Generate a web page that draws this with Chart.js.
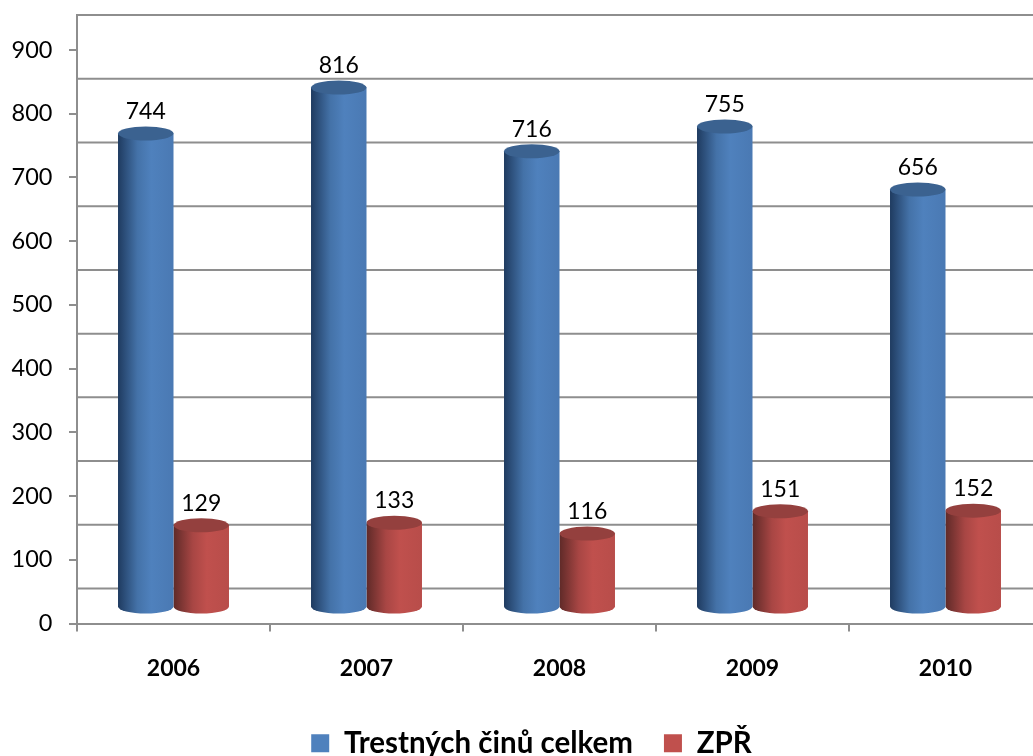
<!DOCTYPE html>
<html>
<head>
<meta charset="UTF-8">
<title>Trestných činů celkem / ZPŘ</title>
<style>
  html, body { margin: 0; padding: 0; background: #fff; overflow: hidden; }
  #wrap { width: 1033px; height: 756px; overflow: hidden; }
</style>
</head>
<body>
<div id="wrap"><canvas id="graf" width="1042" height="756" style="display:block"></canvas></div>
<script src="https://cdn.jsdelivr.net/npm/chart.js@4/dist/chart.umd.min.js"></script>
<script>
  var years = ['2006', '2007', '2008', '2009', '2010'];
  var trestneCiny = [744, 816, 716, 755, 656];
  var zpr = [129, 133, 116, 151, 152];
  var yTicks = [0, 100, 200, 300, 400, 500, 600, 700, 800, 900];

  var gray = '#8e8e8e';
  var fontName = 'Lato, Carlito, Calibri, sans-serif';
  var wallShift = 35;   // the back wall sits this far up from the front axis
  var floorShift = 16;  // the cylinders stand on the floor between the two
  var ry = 7;

  var styles = [
    { dark: '#1f3b60', mid: '#4472a8', light: '#4f81bd', edge: '#4a79b3', top: '#3b6290' },
    { dark: '#5f2a28', mid: '#a84644', light: '#c0504d', edge: '#b84d4a', top: '#94403e' }
  ];

  var drawCylinder = function(c, el, st) {
    var p = el.getProps(['x', 'y', 'base', 'width'], true);
    var x0 = p.x - p.width / 2, x1 = p.x + p.width / 2;
    var top = p.y - floorShift, bot = p.base - floorShift;
    var g = c.createLinearGradient(x0, 0, x1, 0);
    g.addColorStop(0, st.dark);
    g.addColorStop(0.35, st.mid);
    g.addColorStop(0.6, st.light);
    g.addColorStop(1, st.edge);
    c.fillStyle = g;
    c.beginPath();
    c.moveTo(x0, top);
    c.lineTo(x0, bot);
    c.ellipse(p.x, bot, p.width / 2, ry, 0, Math.PI, 0, true);
    c.lineTo(x1, top);
    c.closePath();
    c.fill();
    c.fillStyle = st.top;
    c.beginPath();
    c.ellipse(p.x, top, p.width / 2, ry, 0, 0, Math.PI * 2);
    c.fill();
  };

  var cylinders = {
    id: 'cylinders',
    afterLayout: function(chart) {
      chart.legend.left += 10.5;
      chart.legend.right += 10.5;
    },
    beforeDatasetsDraw: function(chart) {
      // gridlines on the back wall
      var c = chart.ctx, y = chart.scales.y, a = chart.chartArea;
      c.save();
      c.strokeStyle = gray;
      c.lineWidth = 2;
      yTicks.forEach(function(v) {
        var py = y.getPixelForValue(v) - wallShift;
        c.beginPath();
        c.moveTo(a.left, py);
        c.lineTo(a.right, py);
        c.stroke();
      });
      c.restore();
    },
    beforeDatasetDraw: function(chart, args) {
      var c = chart.ctx;
      c.save();
      args.meta.data.forEach(function(el) {
        drawCylinder(c, el, styles[args.index]);
      });
      c.restore();
      return false;
    },
    afterDatasetsDraw: function(chart) {
      var c = chart.ctx;
      c.save();
      c.fillStyle = '#000';
      c.font = '23px ' + fontName;
      c.textAlign = 'center';
      c.textBaseline = 'middle';
      chart.data.datasets.forEach(function(ds, i) {
        chart.getDatasetMeta(i).data.forEach(function(el, j) {
          c.fillText(ds.data[j], el.x, el.y - floorShift - 22);
        });
      });
      c.restore();
    }
  };

  var chart = new Chart(document.getElementById('graf'), {
    type: 'bar',
    data: {
      labels: years,
      datasets: [
        { label: 'Trestných činů celkem', data: trestneCiny, backgroundColor: '#4f81bd' },
        { label: 'ZPŘ', data: zpr, backgroundColor: '#c0504d' }
      ]
    },
    options: {
      responsive: false,
      animation: false,
      layout: { padding: { top: 15, left: 0, right: 0, bottom: -12 } },
      datasets: { bar: { barPercentage: 1, categoryPercentage: 0.575 } },
      plugins: {
        tooltip: { enabled: false },
        legend: {
          position: 'bottom',
          labels: {
            boxWidth: 18,
            boxHeight: 18,
            padding: 31,
            color: '#000',
            font: { family: fontName, size: 29.5, weight: 'bold' }
          }
        }
      },
      scales: {
        x: {
          afterFit: function(s) { s.height = 74; },
          grid: { drawOnChartArea: false, color: gray, lineWidth: 2, tickLength: 8, offset: true },
          border: { color: gray, width: 2 },
          ticks: {
            color: '#000',
            padding: 23,
            maxRotation: 0,
            font: { family: fontName, size: 23, weight: 'bold' }
          }
        },
        y: {
          min: 0,
          max: 955,
          afterFit: function(s) { s.width = 77; s.paddingTop = 0; s.paddingBottom = 0; },
          afterBuildTicks: function(s) {
            s.ticks = yTicks.map(function(v) { return { value: v }; });
          },
          grid: { drawOnChartArea: false, color: gray, lineWidth: 2, tickLength: 8 },
          border: { color: gray, width: 2 },
          ticks: {
            color: '#000',
            padding: 16.5,
            font: { family: fontName, size: 23.5 }
          }
        }
      }
    },
    plugins: [cylinders]
  });
</script>
</body>
</html>
